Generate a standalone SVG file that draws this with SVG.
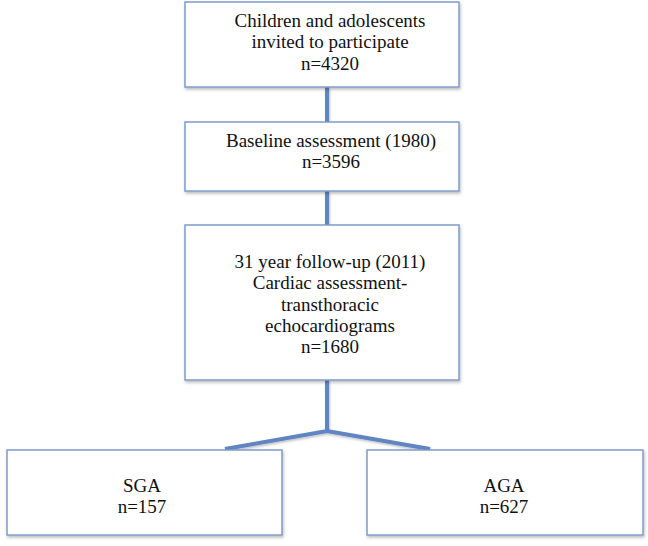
<svg xmlns="http://www.w3.org/2000/svg" width="648" height="546" viewBox="0 0 648 546">
<defs>
<filter id="sh" x="-10%" y="-10%" width="120%" height="130%">
<feDropShadow dx="1" dy="2" stdDeviation="1.5" flood-color="#000" flood-opacity="0.25"/>
</filter>
<filter id="lsh" x="-10%" y="-10%" width="120%" height="130%">
<feDropShadow dx="1" dy="1.5" stdDeviation="1" flood-color="#000" flood-opacity="0.25"/>
</filter>
</defs>
<style>
.box{fill:#fff;stroke:#7f9acb;stroke-width:1.5;filter:url(#sh)}
.conn{fill:none;stroke:#6185c2;stroke-width:4;stroke-linejoin:miter}
.t{font-size:19px;fill:#111;text-anchor:middle}
</style>
<rect width="648" height="546" fill="#fff"/>
<g id="connectors" filter="url(#lsh)">
<line class="conn" x1="327" y1="87" x2="327" y2="122"/>
<line class="conn" x1="327" y1="191" x2="327" y2="225"/>
<polyline class="conn" points="327,380 327,431"/>
<polyline class="conn" points="225,449 327,431 430,449"/>
</g>
<g font-family="'Liberation Serif', 'DejaVu Serif', serif">
<g id="n1">
<rect class="box" x="185" y="2" width="274" height="85"/>
<text class="t" x="330" y="27">Children and adolescents</text>
<text class="t" x="330" y="48">invited to participate</text>
<text class="t" x="330" y="70">n=4320</text>
</g>
<g id="n2">
<rect class="box" x="185" y="122" width="274" height="69"/>
<text class="t" x="331" y="147">Baseline assessment (1980)</text>
<text class="t" x="331" y="168">n=3596</text>
</g>
<g id="n3">
<rect class="box" x="185" y="225" width="274" height="155"/>
<text class="t" x="330" y="268">31 year follow-up (2011)</text>
<text class="t" x="330" y="289">Cardiac assessment-</text>
<text class="t" x="330" y="311">transthoracic</text>
<text class="t" x="330" y="332">echocardiograms</text>
<text class="t" x="330" y="353">n=1680</text>
</g>
<g id="n4">
<rect class="box" x="7" y="450" width="275" height="85"/>
<text class="t" x="142" y="492">SGA</text>
<text class="t" x="142" y="513">n=157</text>
</g>
<g id="n5">
<rect class="box" x="367" y="450" width="276" height="85"/>
<text class="t" x="504" y="492">AGA</text>
<text class="t" x="504" y="513">n=627</text>
</g>
</g>
</svg>
